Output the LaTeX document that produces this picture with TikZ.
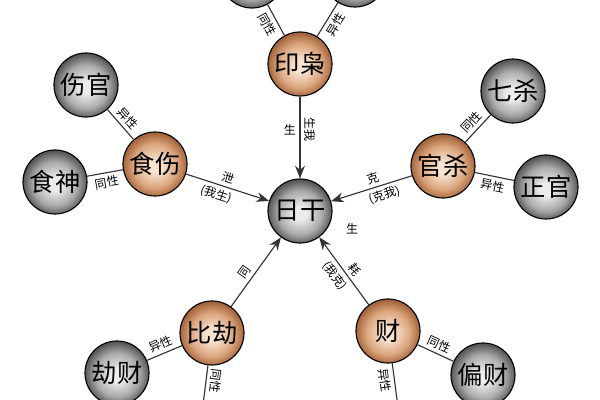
\documentclass[tikz,border=0pt]{standalone}
\usepackage{fontspec}
\newfontfamily\cjk{Noto Sans CJK SC}
\usetikzlibrary{arrows.meta}
\definecolor{tanlight}{HTML}{F7E3CF}
\definecolor{tanmid}{HTML}{DCA67E}
\definecolor{tandark}{HTML}{A4653C}
\definecolor{greylight}{HTML}{ECECEC}
\definecolor{greymid}{HTML}{ABABAB}
\definecolor{greydark}{HTML}{585858}
\pgfdeclareradialshading{tanball}{\pgfpoint{0bp}{-2bp}}{color(0bp)=(tanlight); color(5bp)=(tanlight); color(17bp)=(tanmid); color(25bp)=(tandark); color(50bp)=(tandark)}
\pgfdeclareradialshading{greyball}{\pgfpoint{0bp}{-2bp}}{color(0bp)=(greylight); color(5bp)=(greylight); color(17bp)=(greymid); color(25bp)=(greydark); color(50bp)=(greydark)}
\begin{document}
\begin{tikzpicture}[x=0.025cm,y=-0.025cm,>={Stealth[length=9pt,width=7pt]},
    shen/.style={circle,draw=black,thick,minimum size=1.6cm,inner sep=0pt,shading=tanball,font=\cjk\fontsize{18}{20}\selectfont},
    zi/.style={circle,draw=black,thick,minimum size=1.6cm,inner sep=0pt,shading=greyball,font=\cjk\fontsize{18}{20}\selectfont},
    xian/.style={draw=black!80,thick},
    tag/.style={font=\cjk\fontsize{8.5}{9}\selectfont,inner sep=2.5pt}]
    \useasboundingbox (0,0) rectangle (600,400);
    \clip (0,0) rectangle (600,400);
    \node[zi] (rigan) at (300,211) {日干};
    \node[shen] (yinxiao) at (300,64) {印枭};
    \node[shen] (shishang) at (155,164) {食伤};
    \node[shen] (guansha) at (443,166) {官杀};
    \node[shen] (bijie) at (212,333) {比劫};
    \node[shen] (cai) at (388,331) {财};
    \node[zi] (shangguan) at (86,85) {伤官};
    \node[zi] (shishen) at (55,182) {食神};
    \node[zi] (qisha) at (513,91) {七杀};
    \node[zi] (zhengguan) at (546,187) {正官};
    \node[zi] (jiecai) at (117,373) {劫财};
    \node[zi] (piancai) at (483,375) {偏财};
    % cut off by the frame
    \node[zi] (topl) at (252,-24) {};
    \node[zi] (topr) at (355,-25) {};
    \node[zi] (botl) at (198,445) {};
    \node[zi] (botr) at (403,445) {};
    \node[tag] (sheng) at (352,229) {生};
    \draw[xian] (topl) -- node[tag,sloped,below] {同性} (yinxiao);
    \draw[xian] (yinxiao) -- node[tag,sloped,below] {异性} (topr);
    \draw[xian] (shangguan) -- node[tag,sloped,above] {异性} (shishang);
    \draw[xian] (shishen) -- node[tag,sloped,below] {同性} (shishang);
    \draw[xian] (guansha) -- node[tag,sloped,above] {同性} (qisha);
    \draw[xian] (guansha) -- node[tag,sloped,below] {异性} (zhengguan);
    \draw[xian] (jiecai) -- node[tag,sloped,above] {异性} (bijie);
    \draw[xian] (bijie) -- node[tag,sloped,allow upside down,above,pos=0.3] {同性} (botl);
    \draw[xian] (cai) -- node[tag,sloped,above] {同性} (piancai);
    \draw[xian] (cai) -- node[tag,sloped,below,pos=0.32] {异性} (botr);
    \draw[xian,->] (yinxiao) -- node[tag,pos=0.4,left] {生} node[tag,sloped,pos=0.4,above] {生我} (rigan);
    \draw[xian,->] (shishang) -- node[tag,sloped,above,pos=0.47] {泄} node[tag,sloped,below,pos=0.4] {(我生)} (rigan);
    \draw[xian,->] (guansha) -- node[tag,sloped,above,pos=0.45] {克} node[tag,sloped,below,pos=0.38] {(克我)} (rigan);
    \draw[xian,->] (bijie) -- node[tag,sloped,above,pos=0.42] {同} (rigan);
    \draw[xian,->] (cai) -- node[tag,sloped,above,pos=0.43] {耗} node[tag,sloped,below,pos=0.52] {(我克)} (rigan);
\end{tikzpicture}
\end{document}
